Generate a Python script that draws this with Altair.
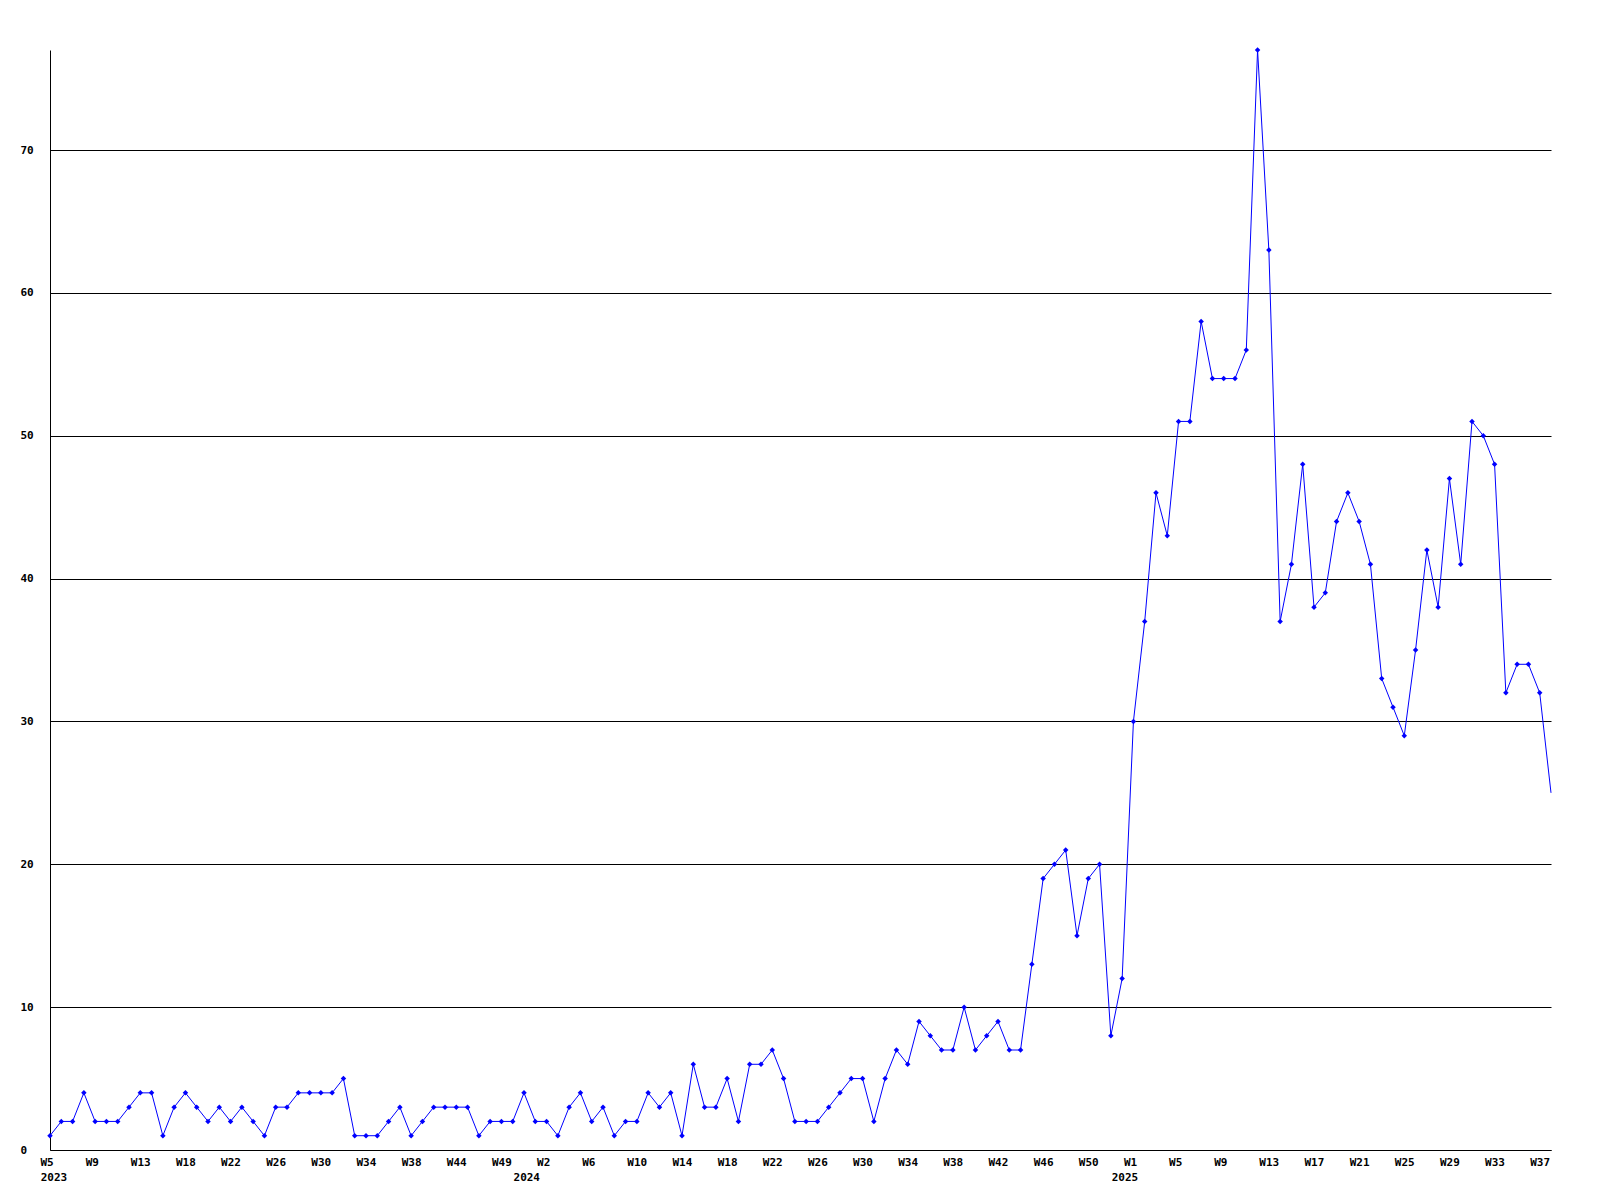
import altair as alt
import pandas as pd

# weekly counts, 2023 W5 .. 2025 W38 (one value per week point)
counts = [
    1, 2, 2, 4, 2, 2, 2, 3, 4, 4, 1, 3, 4, 3, 2, 3, 2, 3, 2, 1,
    3, 3, 4, 4, 4, 4, 5, 1, 1, 1, 2, 3, 1, 2, 3, 3, 3, 3, 1, 2,
    2, 2, 4, 2, 2, 1,
    3, 4, 2, 3, 1, 2, 2, 4, 3, 4, 1, 6, 3, 3, 5, 2, 6, 6, 7, 5,
    2, 2, 2, 3, 4, 5, 5, 2, 5, 7, 6, 9, 8, 7, 7, 10, 7, 8, 9, 7,
    7, 13,
    19, 20, 21, 15, 19, 20, 8, 12, 30, 37, 46, 43, 51, 51, 58, 54, 54, 54, 56, 77,
    63, 37, 41, 48, 38, 39, 44, 46, 44, 41, 33, 31, 29, 35, 42, 38, 47, 41, 51, 50,
    48, 32, 34, 34, 32, 25,
]

# x tick labels, one every 4th point
tick_labels = [
    "W5", "W9", "W13", "W18", "W22", "W26", "W30", "W34", "W38", "W44", "W49",
    "W2", "W6", "W10", "W14", "W18", "W22", "W26", "W30", "W34", "W38", "W42",
    "W46", "W50", "W1", "W5", "W9", "W13", "W17", "W21", "W25", "W29", "W33", "W37",
]
TICK_STEP = 4

# year labels and where the year starts along the week index
years = ["2023", "2024", "2025"]
year_pos = [0.3, 42.2, 95.2]

y_ticks = [0, 10, 20, 30, 40, 50, 60, 70]

FONT = "DejaVu Sans Mono"
BLUE = "#0000ff"

n = len(counts)
df = pd.DataFrame({"idx": list(range(n)), "count": counts})
years_df = pd.DataFrame({"pos": year_pos, "year": years})

tick_vals = [i * TICK_STEP for i in range(len(tick_labels))]
week_expr = "{" + ",".join(f"'{v}':'{l}'" for v, l in zip(tick_vals, tick_labels)) + "}[datum.value]"
year_expr = "{" + ",".join(f"'{p}':'{y}'" for p, y in zip(year_pos, years)) + "}[datum.value]"

x_scale = alt.Scale(domain=[0, n - 1], nice=False, zero=False)
y_scale = alt.Scale(domain=[0, max(counts)], nice=False)

x_axis = alt.Axis(
    values=tick_vals, labelExpr=week_expr, title=None, orient="bottom",
    grid=False, ticks=False, tickSize=0, domainColor="black", domainWidth=1,
    labelAlign="left", labelBaseline="top", labelOffset=-10, labelPadding=6,
    labelFlush=False, labelOverlap=False,
)
y_axis = alt.Axis(
    values=y_ticks, title=None, grid=True, gridColor="black", gridWidth=1,
    gridOpacity=1, ticks=False, tickSize=0, domainColor="black", domainWidth=1,
    labelAlign="left", labelBaseline="middle", labelPadding=30,
    labelFlush=False, labelOverlap=False,
)

line = alt.Chart(df).mark_line(color=BLUE, strokeWidth=1).encode(
    x=alt.X("idx:Q", scale=x_scale, axis=x_axis),
    y=alt.Y("count:Q", scale=y_scale, axis=y_axis),
)

points = alt.Chart(df).transform_filter(
    alt.datum.idx < n - 1
).mark_point(shape="diamond", filled=True, size=30, color=BLUE, opacity=1).encode(
    x=alt.X("idx:Q", scale=x_scale),
    y=alt.Y("count:Q", scale=y_scale),
)

year_layer = alt.Chart(years_df).mark_point(opacity=0).encode(
    x=alt.X(
        "pos:Q", scale=x_scale,
        axis=alt.Axis(
            values=year_pos, labelExpr=year_expr, title=None, orient="bottom",
            grid=False, ticks=False, tickSize=0, domain=False,
            labelAlign="center", labelBaseline="top", labelPadding=21,
            labelFlush=False, labelOverlap=False,
        ),
    ),
)

chart = alt.layer(
    alt.layer(line, points), year_layer
).resolve_scale(x="independent").properties(
    width=1501, height=1100,
    autosize=alt.AutoSizeParams(type="none"),
    padding={"left": 42, "top": 42, "right": 41, "bottom": 42},
).configure_view(
    strokeOpacity=0
).configure_axis(
    labelFont=FONT, labelFontSize=11, labelFontWeight="bold", labelColor="black",
)

chart.save("out.html", embed_options={"renderer": "svg", "actions": False})
